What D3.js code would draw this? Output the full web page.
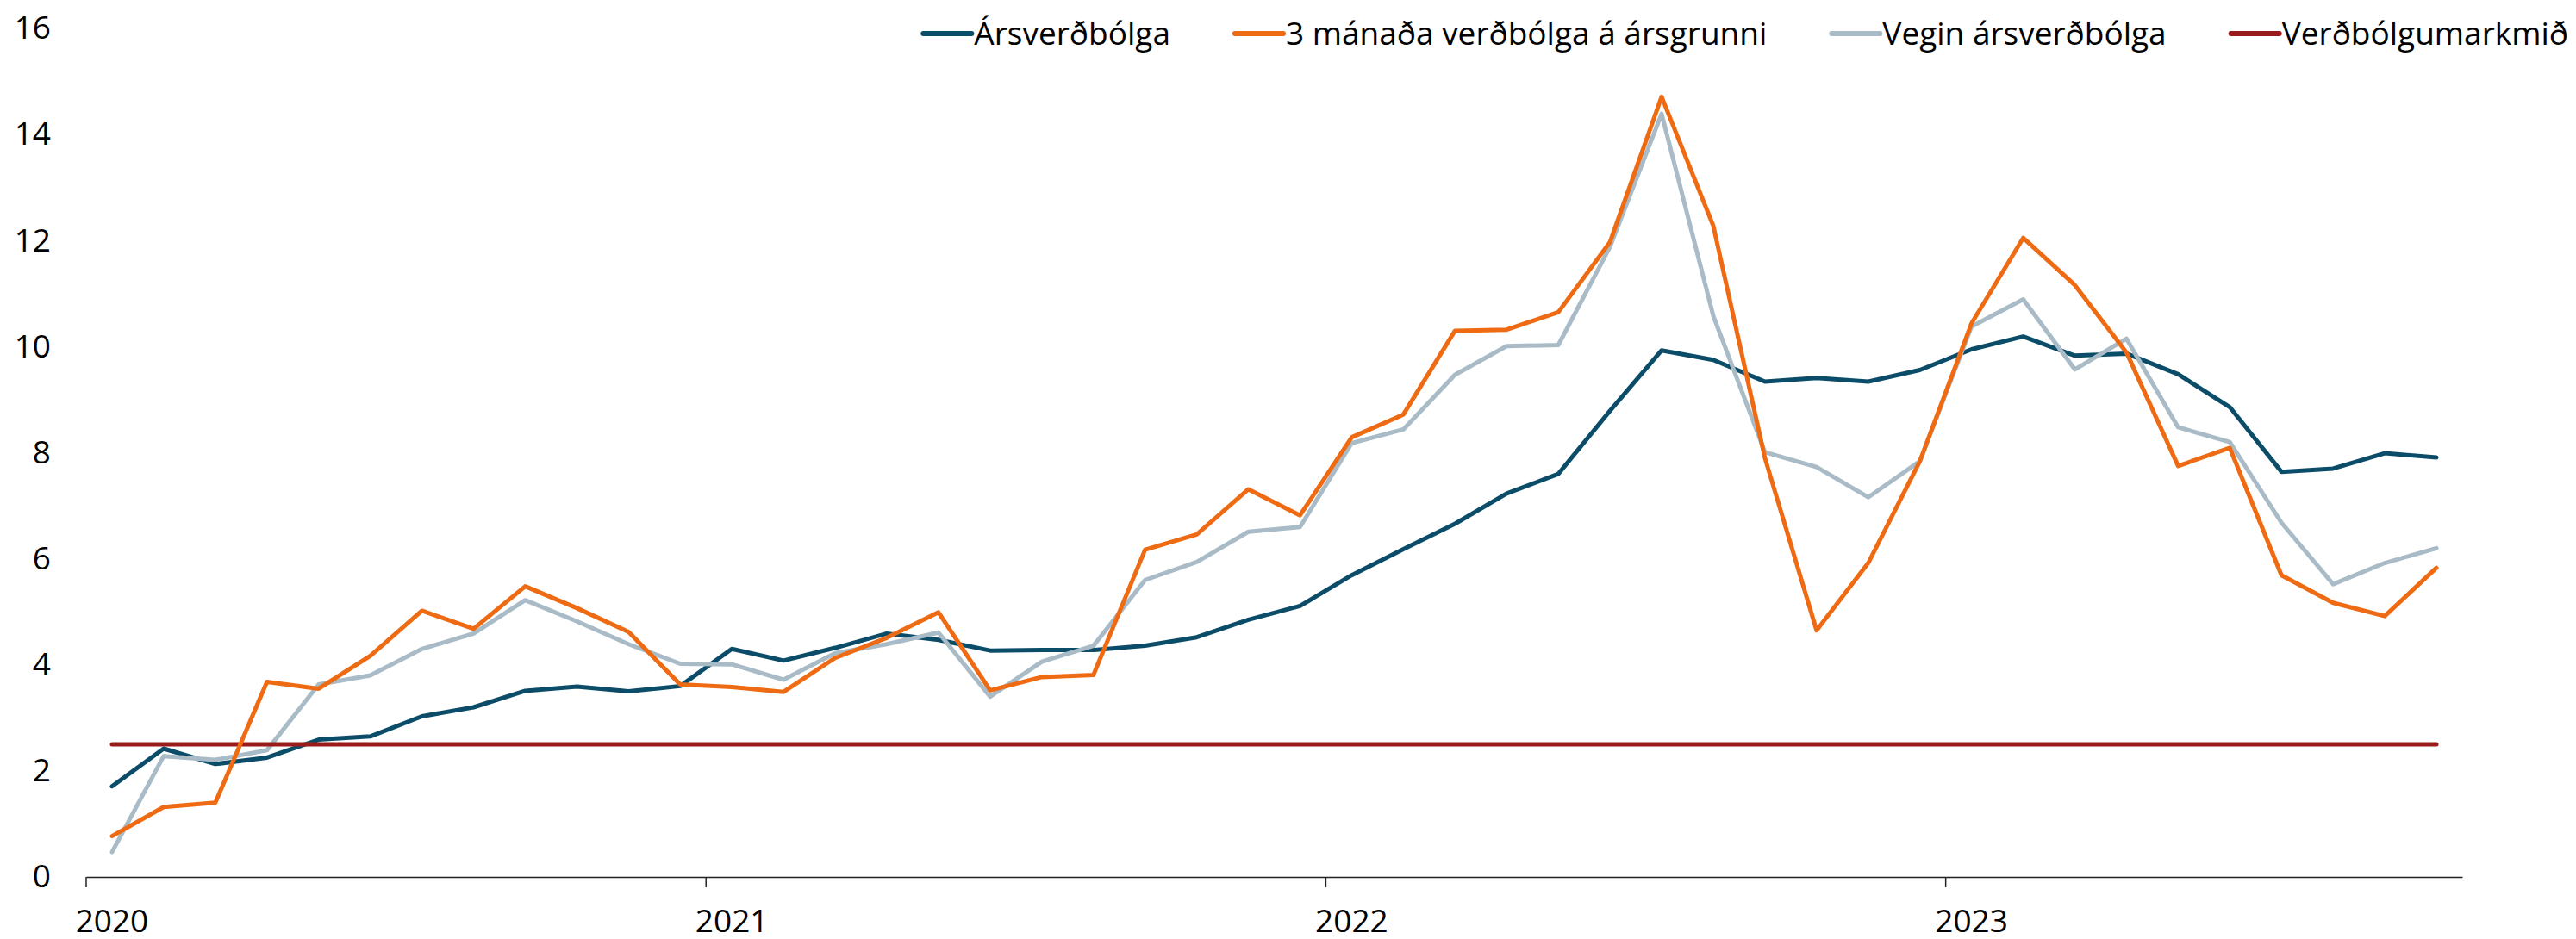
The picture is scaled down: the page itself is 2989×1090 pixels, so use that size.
<!DOCTYPE html>
<html>
<head>
<meta charset="utf-8">
<script src="https://cdn.jsdelivr.net/npm/d3@7"></script>
<style>
    html, body { margin: 0; padding: 0; background: #fff; }
    svg text { font-family: "Segoe UI", "Open Sans", sans-serif; fill: #000; }
</style>
</head>
<body>
<div id="chart"></div>
<script>
// months Jan 2020 - Oct 2023
const months = [
    "2020-01","2020-02","2020-03","2020-04","2020-05","2020-06","2020-07","2020-08","2020-09","2020-10","2020-11","2020-12",
    "2021-01","2021-02","2021-03","2021-04","2021-05","2021-06","2021-07","2021-08","2021-09","2021-10","2021-11","2021-12",
    "2022-01","2022-02","2022-03","2022-04","2022-05","2022-06","2022-07","2022-08","2022-09","2022-10","2022-11","2022-12",
    "2023-01","2023-02","2023-03","2023-04","2023-05","2023-06","2023-07","2023-08","2023-09","2023-10"
];

const arsverdbolga = [1.71,2.42,2.13,2.25,2.59,2.65,3.03,3.20,3.51,3.59,3.50,3.60,
    4.30,4.08,4.32,4.59,4.47,4.27,4.28,4.28,4.36,4.52,4.85,5.11,
    5.69,6.18,6.66,7.23,7.60,8.79,9.93,9.75,9.34,9.41,9.34,9.56,
    9.95,10.19,9.83,9.87,9.48,8.86,7.64,7.70,7.99,7.91];

const threeMonth = [0.77,1.32,1.40,3.68,3.55,4.17,5.02,4.68,5.48,5.07,4.62,3.63,
    3.58,3.49,4.13,4.51,4.99,3.52,3.77,3.81,6.17,6.46,7.31,6.82,
    8.29,8.72,10.30,10.32,10.65,11.97,14.71,12.28,7.90,4.65,5.92,7.84,
    10.44,12.05,11.16,9.89,7.75,8.09,5.69,5.17,4.92,5.83];

const vegin = [0.47,2.28,2.21,2.39,3.63,3.80,4.30,4.59,5.22,4.82,4.39,4.02,
    4.01,3.72,4.22,4.39,4.61,3.40,4.06,4.36,5.60,5.94,6.51,6.60,
    8.18,8.44,9.47,10.01,10.03,11.88,14.39,10.58,8.01,7.73,7.16,7.84,
    10.38,10.89,9.57,10.15,8.48,8.20,6.68,5.52,5.92,6.20];

const targetValue = 2.5;

const yTicks = [0, 2, 4, 6, 8, 10, 12, 14, 16];
const yearLabels = ["2020", "2021", "2022", "2023"];

const seriesNames = ["Ársverðbólga", "3 mánaða verðbólga á ársgrunni", "Vegin ársverðbólga", "Verðbólgumarkmið"];
const seriesColors = ["#0b4d69", "#ee6b13", "#a8bbc6", "#9a1b1b"];
// drawing order (orange ends up on top, target over teal and grey)
const drawOrder = [0, 2, 3, 1];

const W = 2989, H = 1090;
const fontSize = 37;

const svg = d3.select("#chart").append("svg")
    .attr("width", W)
    .attr("height", H);

const x = d3.scaleBand().domain(months).range([100, 2857]).padding(0);
const y = d3.scaleLinear().domain([0, 16]).range([1018, 33]);
const cx = m => x(m) + x.bandwidth() / 2;

// y axis: labels only
svg.append("g")
    .attr("transform", "translate(100,0)")
    .call(d3.axisLeft(y).tickValues(yTicks).tickSize(0).tickPadding(41).tickFormat(d3.format("d")))
    .call(g => g.select(".domain").remove())
    .selectAll("text")
    .style("font-size", fontSize + "px");

// x axis: line, year ticks at band edges, labels centred on January
const janMonths = months.filter(m => m.endsWith("-01"));
const xAxisG = svg.append("g")
    .attr("transform", "translate(0," + y(0) + ")")
    .call(d3.axisBottom(x).tickValues(janMonths).tickSize(0).tickSizeOuter(0).tickPadding(38)
        .tickFormat((m, i) => yearLabels[i]));
xAxisG.select(".domain").attr("stroke", "#222").attr("stroke-width", 1.5);
xAxisG.selectAll("text").style("font-size", fontSize + "px");
xAxisG.selectAll(".yearTick")
    .data(janMonths)
    .join("line")
    .attr("class", "yearTick")
    .attr("x1", m => x(m)).attr("x2", m => x(m))
    .attr("y1", 0).attr("y2", 12)
    .attr("stroke", "#222").attr("stroke-width", 1.5);

// series
const series = [
    months.map((m, i) => ({month: m, value: arsverdbolga[i]})),
    months.map((m, i) => ({month: m, value: threeMonth[i]})),
    months.map((m, i) => ({month: m, value: vegin[i]})),
    months.map(m => ({month: m, value: targetValue}))
];

const line = d3.line()
    .x(d => cx(d.month))
    .y(d => y(d.value));

svg.append("g")
    .selectAll(".seriesLine")
    .data(drawOrder)
    .join("path")
    .attr("class", "seriesLine")
    .attr("d", k => line(series[k]))
    .attr("fill", "none")
    .attr("stroke", k => seriesColors[k])
    .attr("stroke-width", 5)
    .attr("stroke-linejoin", "round")
    .attr("stroke-linecap", "round");

// legend, right aligned
const legend = svg.append("g").attr("class", "legend");
const items = legend.selectAll(".legItem")
    .data(seriesNames)
    .join("g")
    .attr("class", "legItem");
items.append("line")
    .attr("x1", 0).attr("x2", 56)
    .attr("y1", 39).attr("y2", 39)
    .attr("stroke", (d, i) => seriesColors[i])
    .attr("stroke-width", 6)
    .attr("stroke-linecap", "round");
items.append("text")
    .attr("x", 59)
    .attr("y", 52)
    .style("font-size", fontSize + "px")
    .text(d => d);

const gap = 75;
const widths = [];
items.each(function () {
    widths.push(59 + d3.select(this).select("text").node().getComputedTextLength());
});
const total = d3.sum(widths) + gap * (widths.length - 1);
let pos = 2980 - total;
items.attr("transform", (d, i) => {
    const t = "translate(" + pos + ",0)";
    pos += widths[i] + gap;
    return t;
});
</script>
</body>
</html>
